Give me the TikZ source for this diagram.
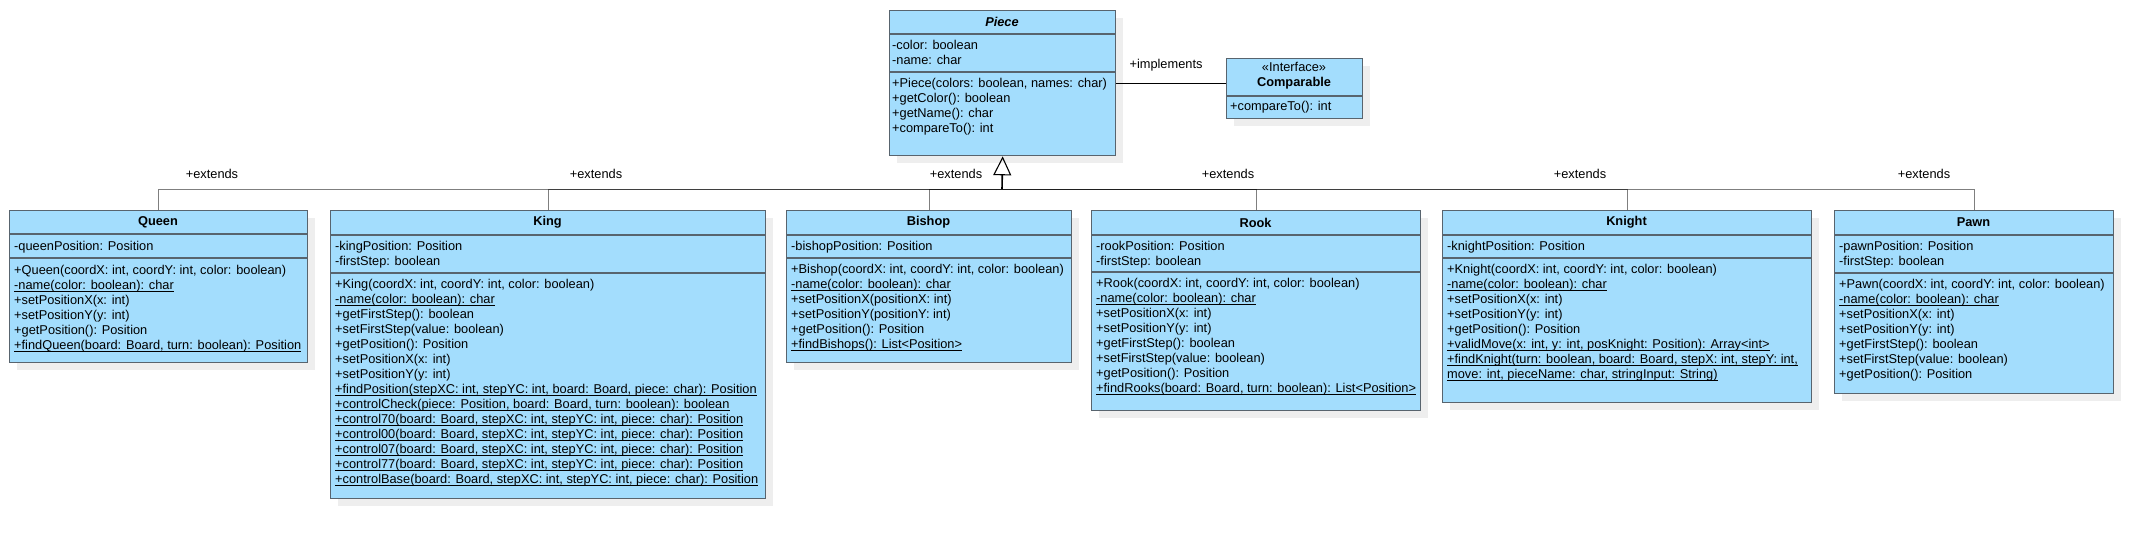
\documentclass[tikz,border=0pt]{standalone}
\usepackage{fontspec}
\setmainfont{Liberation Sans}
\usepackage{xcolor}
\usetikzlibrary{arrows.meta,shadows}

\definecolor{boxfill}{RGB}{163,221,253}
\definecolor{boxline}{RGB}{88,100,110}
\definecolor{shadowgray}{RGB}{238,238,238}

% static members: underline close to the baseline
\newcommand{\undl}[1]{\setbox0\hbox{#1}\rlap{\rule[-2.6pt]{\wd0}{0.8pt}}\box0}

\begin{document}
\begin{tikzpicture}[x=1pt,y=-1pt,
  classbox/.style={draw=boxline, fill=boxfill, line width=1.3pt, anchor=north west,
    inner sep=0pt, drop shadow={shadow xshift=7pt, shadow yshift=-7pt, fill=shadowgray, opacity=1}},
  sepline/.style={draw=boxline, line width=1.3pt},
  titletext/.style={font=\fontsize{12.8}{15}\selectfont\bfseries, inner sep=0pt},
  membertext/.style={font=\fontsize{12.8}{15}\selectfont, anchor=north west, align=left, inner sep=0pt},
  labeltext/.style={font=\fontsize{12.8}{15}\selectfont, inner sep=0pt},
  extline/.style={draw=black, opacity=0.5, line width=1pt}]

% Fix the page size
\useasboundingbox (0,0) rectangle (2153,538);

% Define coordinates for the connectors
\coordinate (bus) at (1002,189);

% Piece and Comparable
\node[classbox, minimum width=226pt, minimum height=145pt] (piece) at (889,10) {};
\node[classbox, minimum width=136pt, minimum height=60pt] (comparable) at (1226,58) {};
\draw[sepline] (889,34) -- (1115,34);
\draw[sepline] (889,72) -- (1115,72);
\draw[sepline] (1226,96) -- (1362,96);
\node[titletext] (piecetitle) at (1002,22) {\textit{Piece}};
\node[membertext] (pieceattr) at (892,40) {-color: boolean\\-name: char};
\node[membertext] (pieceops) at (892,78) {+Piece(colors: boolean, names: char)\\+getColor(): boolean\\+getName(): char\\+compareTo(): int};
\node[labeltext, align=center] (comparabletitle) at (1294,76) {«Interface»\\\textbf{Comparable}};
\node[membertext] (comparableops) at (1230,101) {+compareTo(): int};

% Queen
\node[classbox, minimum width=298pt, minimum height=152pt] (queen) at (9,210) {};
\draw[sepline] (9,234) -- (307,234);
\draw[sepline] (9,258) -- (307,258);
\node[titletext] (queentitle) at (158,222) {Queen};
\node[membertext] (queenattr) at (14,241) {-queenPosition: Position};
\node[membertext] (queenops) at (14,265) {+Queen(coordX: int, coordY: int, color: boolean)\\\undl{-name(color: boolean): char}\\+setPositionX(x: int)\\+setPositionY(y: int)\\+getPosition(): Position\\\undl{+findQueen(board: Board, turn: boolean): Position}};

% King
\node[classbox, minimum width=435pt, minimum height=288pt] (king) at (330,210) {};
\draw[sepline] (330,235) -- (765,235);
\draw[sepline] (330,273) -- (765,273);
\node[titletext] (kingtitle) at (547.5,222.5) {King};
\node[membertext] (kingattr) at (335,241) {-kingPosition: Position\\-firstStep: boolean};
\node[membertext] (kingops) at (335,279) {+King(coordX: int, coordY: int, color: boolean)\\\undl{-name(color: boolean): char}\\+getFirstStep(): boolean\\+setFirstStep(value: boolean)\\+getPosition(): Position\\+setPositionX(x: int)\\+setPositionY(y: int)\\\undl{+findPosition(stepXC: int, stepYC: int, board: Board, piece: char): Position}\\\undl{+controlCheck(piece: Position, board: Board, turn: boolean): boolean}\\\undl{+control70(board: Board, stepXC: int, stepYC: int, piece: char): Position}\\\undl{+control00(board: Board, stepXC: int, stepYC: int, piece: char): Position}\\\undl{+control07(board: Board, stepXC: int, stepYC: int, piece: char): Position}\\\undl{+control77(board: Board, stepXC: int, stepYC: int, piece: char): Position}\\\undl{+controlBase(board: Board, stepXC: int, stepYC: int, piece: char): Position}};

% Bishop
\node[classbox, minimum width=285pt, minimum height=152pt] (bishop) at (786,210) {};
\draw[sepline] (786,235) -- (1071,235);
\draw[sepline] (786,258) -- (1071,258);
\node[titletext] (bishoptitle) at (928.5,222.5) {Bishop};
\node[membertext] (bishopattr) at (791,241) {-bishopPosition: Position};
\node[membertext] (bishopops) at (791,264) {+Bishop(coordX: int, coordY: int, color: boolean)\\\undl{-name(color: boolean): char}\\+setPositionX(positionX: int)\\+setPositionY(positionY: int)\\+getPosition(): Position\\\undl{+findBishops(): List<Position>}};

% Rook
\node[classbox, minimum width=329pt, minimum height=200pt] (rook) at (1091,210) {};
\draw[sepline] (1091,235) -- (1420,235);
\draw[sepline] (1091,272) -- (1420,272);
\node[titletext] (rooktitle) at (1255.5,222.5) {Rook};
\node[membertext] (rookattr) at (1096,241) {-rookPosition: Position\\-firstStep: boolean};
\node[membertext] (rookops) at (1096,278) {+Rook(coordX: int, coordY: int, color: boolean)\\\undl{-name(color: boolean): char}\\+setPositionX(x: int)\\+setPositionY(y: int)\\+getFirstStep(): boolean\\+setFirstStep(value: boolean)\\+getPosition(): Position\\\undl{+findRooks(board: Board, turn: boolean): List<Position>}};

% Knight
\node[classbox, minimum width=369pt, minimum height=192pt] (knight) at (1442,210) {};
\draw[sepline] (1442,235) -- (1811,235);
\draw[sepline] (1442,258) -- (1811,258);
\node[titletext] (knighttitle) at (1626.5,222.5) {Knight};
\node[membertext] (knightattr) at (1447,241) {-knightPosition: Position};
\node[membertext] (knightops) at (1447,264) {+Knight(coordX: int, coordY: int, color: boolean)\\\undl{-name(color: boolean): char}\\+setPositionX(x: int)\\+setPositionY(y: int)\\+getPosition(): Position\\\undl{+validMove(x: int, y: int, posKnight: Position): Array<int>}\\\undl{+findKnight(turn: boolean, board: Board, stepX: int, stepY: int,}\\\undl{move: int, pieceName: char, stringInput: String)}};

% Pawn
\node[classbox, minimum width=279pt, minimum height=183pt] (pawn) at (1834,210) {};
\draw[sepline] (1834,235) -- (2113,235);
\draw[sepline] (1834,273) -- (2113,273);
\node[titletext] (pawntitle) at (1973.5,222.5) {Pawn};
\node[membertext] (pawnattr) at (1839,241) {-pawnPosition: Position\\-firstStep: boolean};
\node[membertext] (pawnops) at (1839,279) {+Pawn(coordX: int, coordY: int, color: boolean)\\\undl{-name(color: boolean): char}\\+setPositionX(x: int)\\+setPositionY(y: int)\\+getFirstStep(): boolean\\+setFirstStep(value: boolean)\\+getPosition(): Position};

% Draw the generalization lines
\draw[extline] (queen.north) |- (bus);
\draw[extline] (king.north) |- (bus);
\draw[extline] (bishop.north) |- (bus);
\draw[extline] (rook.north) |- (bus);
\draw[extline] (knight.north) |- (bus);
\draw[extline] (pawn.north) |- (bus);
\draw[line width=1.6pt, -{Triangle[open, length=19pt, width=18pt, line width=1.1pt]}] (bus) -- (piece.south);

% Draw the realization line
\draw[line width=0.9pt] (piece.east) -- (comparable.west |- piece.east);

% Add labels
\node[labeltext] (implementslabel) at (1166,65) {+implements};
\node[labeltext] (queenlabel) at (212,174) {+extends};
\node[labeltext] (kinglabel) at (596,174) {+extends};
\node[labeltext] (bishoplabel) at (956,174) {+extends};
\node[labeltext] (rooklabel) at (1228,174) {+extends};
\node[labeltext] (knightlabel) at (1580,174) {+extends};
\node[labeltext] (pawnlabel) at (1924,174) {+extends};

\end{tikzpicture}
\end{document}
